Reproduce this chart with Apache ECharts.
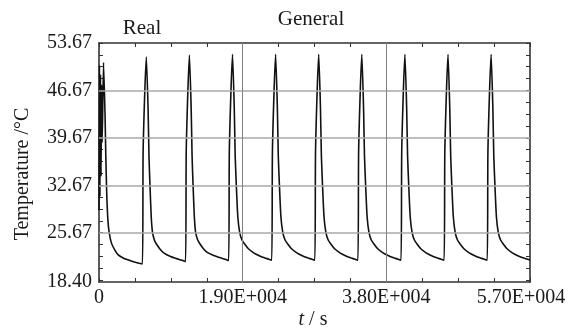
<!DOCTYPE html>
<html>
<head>
<meta charset="utf-8">
<style>html,body{margin:0;padding:0;background:#fff;}#c{width:574px;height:330px;}</style>
<script src="https://cdn.jsdelivr.net/npm/echarts@6/dist/echarts.min.js"></script>
</head>
<body>
<div id="c"></div>
<script>
// ---- data ----
var timeS = [
  0, 60, 130, 200, 270, 340, 420,
  600, 800, 900, 1020, 1180, 1350, 1660, 2100, 2540, 3200, 4000, 4800, 5740,
  5840, 6260, 6490, 6610, 6740, 6910, 7080, 7360, 7660, 8110, 8560, 9460, 10260, 10960, 11440,
  11540, 11960, 12190, 12310, 12440, 12610, 12780, 13060, 13360, 13810, 14260, 15160, 15960, 16660, 17140,
  17240, 17660, 17890, 18010, 18160, 18360, 18610, 18910, 19260, 19760, 20460, 21260, 21960, 22460, 22840,
  22940, 23360, 23590, 23710, 23860, 24060, 24310, 24610, 24960, 25460, 26160, 26960, 27660, 28160, 28540,
  28640, 29060, 29290, 29410, 29560, 29760, 30010, 30310, 30660, 31160, 31860, 32660, 33360, 33860, 34240,
  34340, 34760, 34990, 35110, 35260, 35460, 35710, 36010, 36360, 36860, 37560, 38360, 39060, 39560, 39940,
  40040, 40460, 40690, 40810, 40960, 41160, 41410, 41710, 42060, 42560, 43260, 44060, 44760, 45260, 45640,
  45740, 46160, 46390, 46510, 46660, 46860, 47110, 47410, 47760, 48260, 48960, 49760, 50460, 50960, 51340,
  51440, 51860, 52090, 52210, 52360, 52560, 52810, 53110, 53460, 53960, 54660, 55460, 56160, 57000
];
var tempC = [
  29, 50.4, 31, 49, 34, 47.5, 39,
  50.8, 43, 37, 31.5, 27.5, 25.7, 24.1, 23.1, 22.4, 21.95, 21.6, 21.3, 21.05,
  38, 51.6, 44, 37, 32.7, 28.0, 25.7, 24.5, 23.9, 23.2, 22.7, 22.15, 21.85, 21.6, 21.4,
  38, 51.9, 44, 37, 32.7, 28.0, 25.7, 24.6, 24.0, 23.3, 22.8, 22.3, 22.0, 21.75, 21.55,
  38, 52.0, 44, 37, 32.7, 28.0, 25.7, 24.6, 24.0, 23.3, 22.7, 22.25, 21.95, 21.75, 21.6,
  38, 52.0, 44, 37, 32.7, 28.0, 25.7, 24.6, 24.0, 23.3, 22.7, 22.25, 21.95, 21.75, 21.6,
  38, 52.0, 44, 37, 32.7, 28.0, 25.7, 24.6, 24.0, 23.3, 22.7, 22.25, 21.95, 21.75, 21.6,
  38, 52.0, 44, 37, 32.7, 28.0, 25.7, 24.6, 24.0, 23.3, 22.7, 22.25, 21.95, 21.75, 21.6,
  38, 52.0, 44, 37, 32.7, 28.0, 25.7, 24.6, 24.0, 23.3, 22.7, 22.25, 21.95, 21.75, 21.6,
  38, 52.0, 44, 37, 32.7, 28.0, 25.7, 24.6, 24.0, 23.3, 22.7, 22.25, 21.95, 21.75, 21.6,
  38, 52.0, 44, 37, 32.7, 28.0, 25.7, 24.6, 24.0, 23.3, 22.7, 22.25, 21.95, 21.65
];
var xTickValues = [0, 19000, 38000, 57000];
var xTickLabels = ['0', '1.90E+004', '3.80E+004', '5.70E+004'];
var yTickValues = [18.40, 25.67, 32.67, 39.67, 46.67, 53.67];
var yTickLabels = ['18.40', '25.67', '32.67', '39.67', '46.67', '53.67'];
var regionLabels = ['Real', 'General'];
var xName = 't', xUnit = ' / s';
var yName = 'Temperature /\u00B0C';

// ---- build ----
var seriesData = timeS.map(function (t, i) { return [t, tempC[i]]; });
var yMinor = [];
for (var i = 1; i < yTickValues.length; i++) {
  var a = yTickValues[i - 1], b = yTickValues[i];
  if (i === 1) { for (var k = 4; k >= 1; k--) { var v = +(b - 1.75 * k).toFixed(2); if (v > a) yMinor.push(v); } }
  else { for (var k2 = 0; k2 < 4; k2++) yMinor.push(+(a + (b - a) * k2 / 4).toFixed(3)); }
}
yMinor.push(yTickValues[yTickValues.length - 1]);

var FONT = '"Liberation Serif", "DejaVu Serif", serif';
var axisLineStyle = { color: '#333', width: 1.6 };
var tickStyle = { color: '#333', width: 1 };

var chart = echarts.init(document.getElementById('c'), null, { renderer: 'canvas' });
chart.setOption({
  animation: false,
  backgroundColor: '#fff',
  grid: { left: 99, right: 44, top: 43, bottom: 48, containLabel: false },
  xAxis: [{
    type: 'value', min: 0, max: 57000, interval: 4750, position: 'bottom',
    axisLine: { show: true, onZero: false, lineStyle: axisLineStyle },
    axisTick: { show: true, inside: true, length: 4, lineStyle: tickStyle },
    splitLine: { show: false },
    axisLabel: {
      customValues: xTickValues, margin: 6, color: '#1a1a1a', fontFamily: FONT, fontSize: 20,
      formatter: function (v) {
        var idx = xTickValues.indexOf(v);
        var s = idx >= 0 ? xTickLabels[idx] : '';
        return idx === xTickValues.length - 1 ? '{last|' + s + '}' : s;
      },
      rich: { last: { fontFamily: FONT, fontSize: 20, color: '#1a1a1a', padding: [0, 18, 0, 0] } }
    }
  }, {
    type: 'value', min: 0, max: 57000, interval: 4750, position: 'top',
    axisLine: { show: true, onZero: false, lineStyle: axisLineStyle },
    axisTick: { show: true, inside: true, length: 4, lineStyle: tickStyle },
    axisLabel: { show: false }, splitLine: { show: false }
  }],
  yAxis: [{
    type: 'value', min: 18.40, max: 53.67, position: 'left',
    axisLine: { show: true, onZero: false, lineStyle: axisLineStyle },
    axisTick: { show: true, inside: true, length: 4, lineStyle: tickStyle, customValues: yMinor },
    splitLine: { show: false },
    axisLabel: {
      customValues: yTickValues, margin: 7, color: '#1a1a1a', fontFamily: FONT, fontSize: 20,
      formatter: function (v) {
        var best = 0;
        for (var j = 0; j < yTickValues.length; j++) if (Math.abs(yTickValues[j] - v) < Math.abs(yTickValues[best] - v)) best = j;
        return yTickLabels[best];
      }
    }
  }, {
    type: 'value', min: 18.40, max: 53.67, position: 'right',
    axisLine: { show: true, onZero: false, lineStyle: axisLineStyle },
    axisTick: { show: true, inside: true, length: 4, lineStyle: tickStyle, customValues: yMinor },
    axisLabel: { show: false }, splitLine: { show: false }
  }],
  series: [{
    type: 'line', data: [], z: 1, silent: true,
    markLine: {
      silent: true, symbol: 'none', label: { show: false }, animation: false,
      data: yTickValues.slice(1, -1).map(function (v) { return { yAxis: v, lineStyle: { color: '#a8a8a8', width: 1.5, type: 'solid' } }; })
        .concat(xTickValues.slice(1, -1).map(function (v) { return { xAxis: v, lineStyle: { color: '#808080', width: 1, type: 'solid' } }; }))
    }
  }, {
    type: 'line', data: seriesData, z: 3, showSymbol: false, symbol: 'none',
    lineStyle: { color: '#111', width: 1.6 }, smooth: 0.2
  }],
  graphic: [
    { type: 'text', x: 142, y: 28, style: { text: regionLabels[0], font: '21px ' + FONT, fill: '#1a1a1a', textAlign: 'center', textVerticalAlign: 'middle' } },
    { type: 'text', x: 311, y: 19, style: { text: regionLabels[1], font: '21px ' + FONT, fill: '#1a1a1a', textAlign: 'center', textVerticalAlign: 'middle' } },
    { type: 'text', rotation: Math.PI / 2, x: 23, y: 174, style: { text: yName, font: '20px ' + FONT, fill: '#1a1a1a', textAlign: 'center', textVerticalAlign: 'middle' } },
    { type: 'text', x: 313, y: 320, style: {
        text: '{i|' + xName + '}{n|' + xUnit + '}', textAlign: 'center', textVerticalAlign: 'middle',
        rich: { i: { fontFamily: FONT, fontSize: 20, fontStyle: 'italic', fill: '#1a1a1a', color: '#1a1a1a' },
                n: { fontFamily: FONT, fontSize: 20, fill: '#1a1a1a', color: '#1a1a1a' } } } }
  ]
});
</script>
</body>
</html>
